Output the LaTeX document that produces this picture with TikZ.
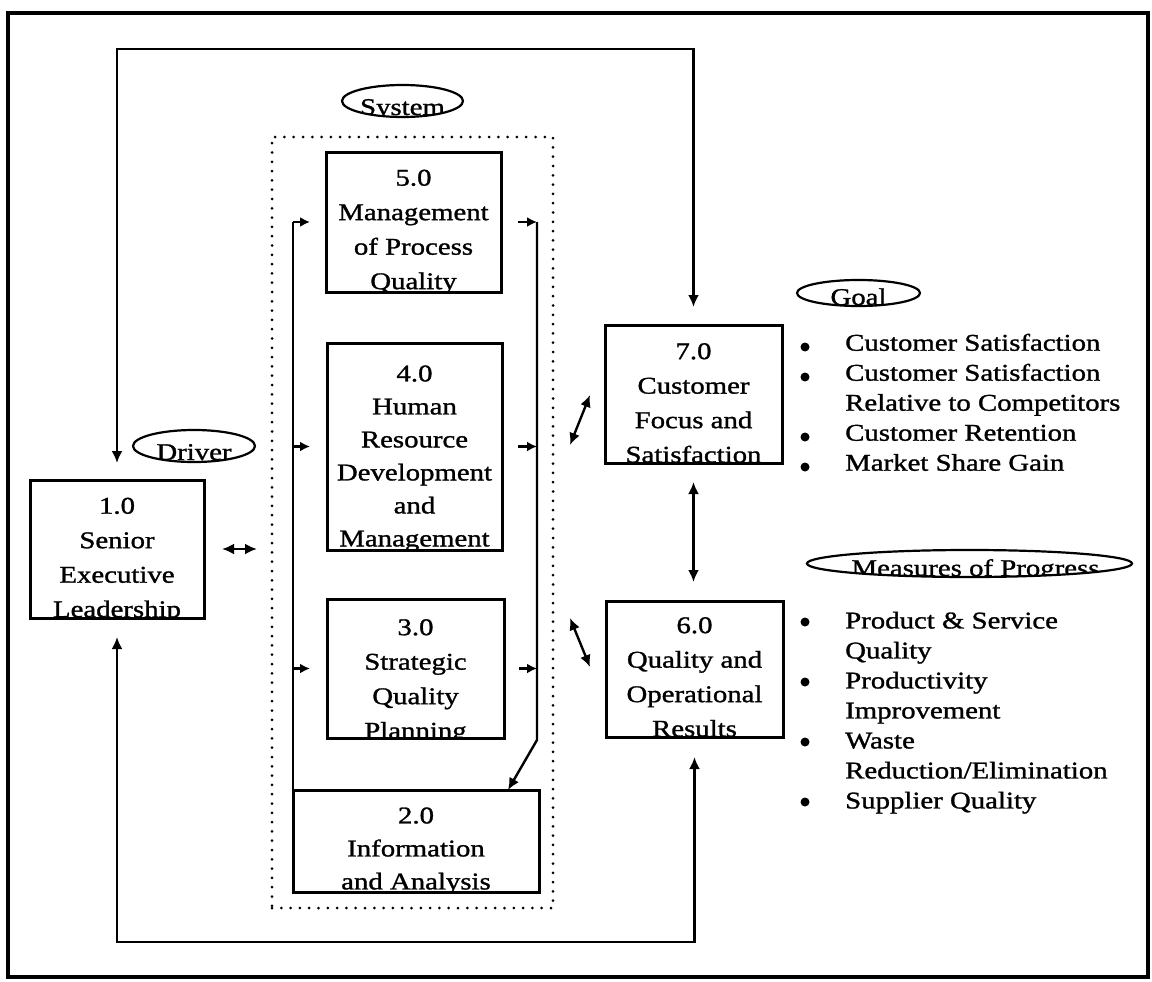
\documentclass[tikz,border=0pt]{standalone}
\usepackage{fontspec}
\setmainfont{Liberation Serif}[FakeStretch=1.2,FakeBold=1.2]
\usetikzlibrary{arrows.meta,shapes.geometric}
\begin{document}
\begin{tikzpicture}[x=1pt,y=-1pt,
  box/.style={draw, line width=3pt, inner sep=0pt, outer sep=0pt},
  btxt/.style={anchor=north, inner sep=0pt, align=center, font=\fontsize{24}{34.5}\selectfont},
  tag/.style={draw, ellipse, line width=2.2pt, inner sep=0pt, outer sep=0pt},
  ttxt/.style={anchor=base, inner sep=0pt, font=\fontsize{24}{28}\selectfont},
  ltxt/.style={anchor=north west, inner sep=0pt, align=left, font=\fontsize{24}{30}\selectfont},
  conn/.style={line width=2.4pt},
  arr/.style={-{Latex[length=12pt,width=11pt]}},
  sarr/.style={-{Latex[length=10pt,width=10pt]}},
  darr/.style={{Latex[length=12pt,width=11pt]}-{Latex[length=12pt,width=11pt]}},
  dotbox/.style={draw, dash pattern=on 0pt off 9.3pt, line cap=round, line width=3pt, inner sep=0pt, outer sep=0pt},
]
\useasboundingbox (0,0) rectangle (1152,982);
% outer frame
\draw[line width=4pt] (8,13) rectangle (1148,977);

% system dotted frame
\node[dotbox, minimum width=281pt, minimum height=771pt] (sys) at (412.5,522.5) {};

% boxes
\node[box, minimum width=175pt, minimum height=140pt,
  path picture={\node[btxt] at ([yshift=-10pt]path picture bounding box.north) {5.0\\Management\\of Process\\Quality};}] (n5) at (413.5,222) {};
\node[box, minimum width=175pt, minimum height=207pt,
  path picture={\node[btxt, font=\fontsize{24}{33}\selectfont] at ([yshift=-12pt]path picture bounding box.north) {4.0\\Human\\Resource\\Development\\and\\Management};}] (n4) at (414.5,446.5) {};
\node[box, minimum width=177pt, minimum height=139pt,
  path picture={\node[btxt] at ([yshift=-13pt]path picture bounding box.north) {3.0\\Strategic\\Quality\\Planning};}] (n3) at (415.5,668.5) {};
\node[box, minimum width=246pt, minimum height=102pt,
  path picture={\node[btxt, font=\fontsize{24}{33}\selectfont] at ([yshift=-10pt]path picture bounding box.north) {2.0\\Information\\and Analysis};}] (n2) at (416,841) {};
\node[box, minimum width=174pt, minimum height=138pt,
  path picture={\node[btxt] at ([yshift=-11pt]path picture bounding box.north) {1.0\\Senior\\Executive\\Leadership};}] (n1) at (117,549) {};
\node[box, minimum width=177pt, minimum height=138pt,
  path picture={\node[btxt] at ([yshift=-9pt]path picture bounding box.north) {7.0\\Customer\\Focus and\\Satisfaction};}] (n7) at (693.5,394) {};
\node[box, minimum width=177pt, minimum height=136pt,
  path picture={\node[btxt] at ([yshift=-8pt]path picture bounding box.north) {6.0\\Quality and\\Operational\\Results};}] (n6) at (694.5,669) {};

% tags
\node[tag, minimum width=121pt, minimum height=32pt,
  path picture={\node[ttxt] at ([yshift=2pt]path picture bounding box.south) {System};}] (tsys) at (402.5,101) {};
\node[tag, minimum width=122pt, minimum height=32pt,
  path picture={\node[ttxt] at ([yshift=2pt]path picture bounding box.south) {Driver};}] (tdrv) at (194,446) {};
\node[tag, minimum width=123pt, minimum height=26pt,
  path picture={\node[ttxt] at ([yshift=1pt]path picture bounding box.south) {Goal};}] (tgoal) at (858.5,293) {};
\node[tag, minimum width=325pt, minimum height=27pt,
  path picture={\node[ttxt] at ([xshift=6pt,yshift=1pt]path picture bounding box.south) {Measures of Progress};}] (tmeas) at (969.5,563.5) {};

% lists
\node[ltxt] (goallist) at (845,333.6) {Customer Satisfaction\\Customer Satisfaction\\Relative to Competitors\\Customer Retention\\Market Share Gain};
\foreach \yy in {347,377,437,467} \fill (805,\yy) circle (4.5pt);
\node[ltxt] (measlist) at (845,611.6) {Product \& Service\\Quality\\Productivity\\Improvement\\Waste\\Reduction/Elimination\\Supplier Quality};
\foreach \yy in {622,682,742,802} \fill (805,\yy) circle (4.5pt);

% coordinates
\coordinate (topy) at (0,49);
\coordinate (boty) at (0,942);
\coordinate (Ltop) at (293,222);
\coordinate (Rtop) at (537,222);
\coordinate (Rbend) at (537,740);
\coordinate (d1a) at (570,445);
\coordinate (d1b) at (590,395);
\coordinate (d2a) at (570,618);
\coordinate (d2b) at (590,667);

% outer loop connectors
\draw[conn, darr, shorten <=17pt, shorten >=18pt] (n1.north) -- (n1.north |- topy) -- (n7.north |- topy) -- (n7.north);
\draw[conn, darr, shorten <=19pt, shorten >=20pt] (n1.south) -- (n1.south |- boty) -- (n6.south |- boty) -- (n6.south);
\draw[conn, darr, shorten <=18pt, shorten >=15pt] (n1.east) -- (n1.east -| sys.west);
\draw[conn, darr, shorten <=19pt, shorten >=19pt] (n7.south) -- (n7.south |- n6.north);
\draw[conn, darr] (d1a) -- (d1b);
\draw[conn, darr] (d2a) -- (d2b);

% system internal
\draw[conn] (Ltop) -- (Ltop |- n2.north);
\draw[conn, sarr, shorten >=16pt] (Ltop) -- (n5.west);
\draw[conn, sarr, shorten >=17pt] (n4.west -| Ltop) -- (n4.west);
\draw[conn, sarr, shorten >=17pt] (n3.west -| Ltop) -- (n3.west);
\draw[conn, sarr, shorten <=17pt] (n5.east) -- (Rtop);
\draw[conn, sarr, shorten <=16pt] (n4.east) -- (n4.east -| Rtop);
\draw[conn, sarr, shorten <=15pt] (n3.east) -- (n3.east -| Rtop);
\draw[conn, arr] (Rtop) -- (Rbend) -- ([xshift=92pt]n2.north);
\end{tikzpicture}
\end{document}
